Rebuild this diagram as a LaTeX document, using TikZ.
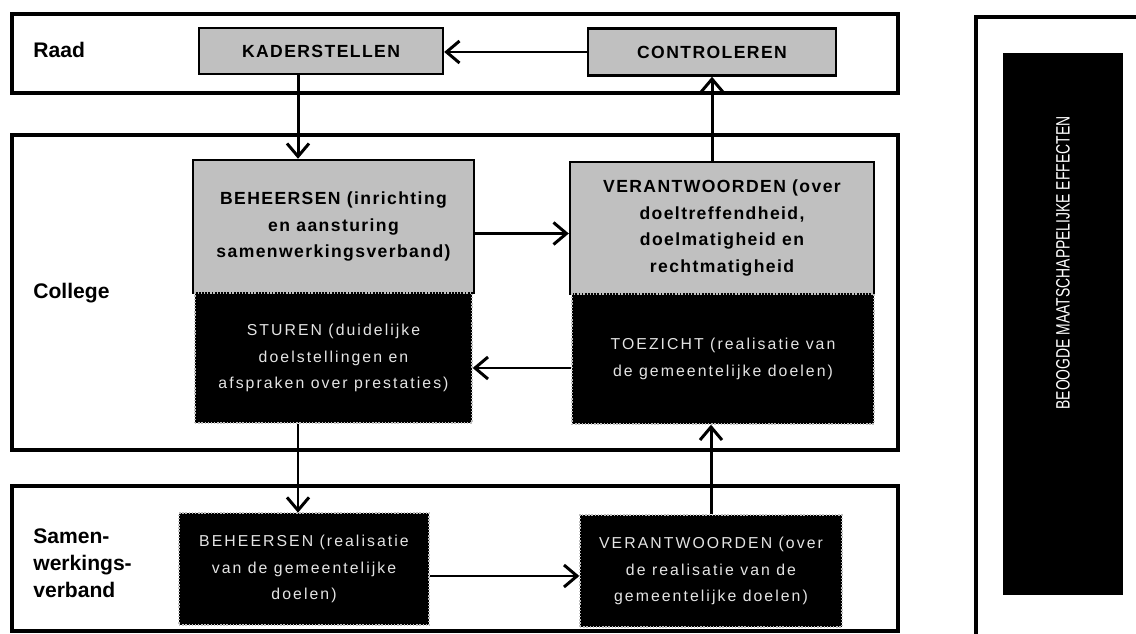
\documentclass[tikz,border=0pt]{standalone}
\usepackage{fontspec}
\setmainfont{Liberation Sans}
\newfontfamily\greyfont[LetterSpace=8]{Liberation Sans}
\newfontfamily\darkfont[LetterSpace=13]{Liberation Sans}
\usetikzlibrary{arrows.meta, positioning}
\definecolor{greyfill}{RGB}{192, 192, 192}
\definecolor{darktext}{RGB}{228, 228, 228}

\begin{document}
\begin{tikzpicture}[x=0.02cm, y=-0.02cm,
    lane/.style={draw, line width=2pt},
    lanelabel/.style={anchor=west, align=left, inner sep=0pt, font=\fontsize{12}{15.5}\selectfont\bfseries},
    greybox/.style={rectangle, draw, line width=1.4pt, fill=greyfill, align=center, inner sep=0pt, font=\greyfont\fontsize{10}{15.3}\selectfont\bfseries},
    darkbox/.style={rectangle, fill=black, draw=gray!50, densely dotted, line width=0.8pt, text=darktext, align=center, inner sep=0pt, font=\darkfont\fontsize{9}{15.3}\selectfont},
    arr/.style={-{Straight Barb[length=2.6mm, width=4.4mm, line width=1.7pt]}, line width=1.7pt}
]
    \useasboundingbox (0,0) rectangle (1136,634);

    % lanes
    \draw[lane] (12,14) rectangle (898,93);
    \draw[lane] (12,135) rectangle (898,450);
    \draw[lane] (12,486) rectangle (898,631);
    \draw[lane] (1136,17) -- (976,17) -- (976,634);

    \node[lanelabel] (raad) at (33,50) {Raad};
    \node[lanelabel] (college) at (33,293) {College};
    \node[lanelabel] (samen) at (33,563) {Samen-\\werkings-\\verband};

    % Raad
    \node[greybox, minimum width=4.88cm, minimum height=0.92cm] (kader) at (321,51) {KADERSTELLEN};
    \node[greybox, minimum width=4.96cm, minimum height=0.94cm] (contr) at (712,52) {CONTROLEREN};

    % College
    \node[greybox, minimum width=5.62cm, minimum height=2.66cm] (beh) at (333.5,226.5) {BEHEERSEN (inrichting\\en aansturing\\samenwerkingsverband)};
    \node[darkbox, minimum width=5.54cm, minimum height=2.6cm] (stu) at (333.5,358) {STUREN (duidelijke\\doelstellingen en\\afspraken over prestaties)};
    \node[greybox, minimum width=6.08cm, minimum height=2.64cm] (ver) at (722,228) {VERANTWOORDEN (over\\doeltreffendheid,\\doelmatigheid en\\rechtmatigheid};
    \node[darkbox, minimum width=6.04cm, minimum height=2.6cm] (toe) at (723,359) {TOEZICHT (realisatie van\\de gemeentelijke doelen)};

    % Samenwerkingsverband
    \node[darkbox, minimum width=5.0cm, minimum height=2.24cm] (sbeh) at (304,569) {BEHEERSEN (realisatie\\van de gemeentelijke\\doelen)};
    \node[darkbox, minimum width=5.24cm, minimum height=2.24cm] (sver) at (711,571) {VERANTWOORDEN (over\\de realisatie van de\\gemeentelijke doelen)};

    % effecten
    \node[rectangle, fill=black, minimum width=2.4cm, minimum height=10.84cm] (effect) at (1063,324) {};
    \node[rotate=90, text=white, font=\fontsize{11}{13}\selectfont] (effecttext) at (1063,263) {\scalebox{0.72}[1]{BEOOGDE MAATSCHAPPELIJKE EFFECTEN}};

    \draw[arr] (contr.west) -- (contr.west -| kader.east);
    \draw[arr] ([xshift=-0.46cm]kader.south) -- ([xshift=-0.46cm]kader.south |- beh.north);
    \draw[arr] ([yshift=-0.14cm]beh.east) -- ([yshift=-0.14cm]beh.east -| ver.west);
    \draw[arr] ([yshift=-0.18cm]toe.west) -- ([yshift=-0.18cm]toe.west -| stu.east);
    \draw[arr] (contr.south |- ver.north) -- (contr.south);
    \draw[arr] (sbeh.north |- stu.south) ++(-0.12cm,0) -- ++(0,-1.78cm);
    \draw[arr] ([yshift=-0.14cm]sbeh.east) -- ([yshift=-0.14cm]sbeh.east -| sver.west);
    \draw[arr] (sver.north) -- (sver.north |- toe.south);
\end{tikzpicture}
\end{document}
